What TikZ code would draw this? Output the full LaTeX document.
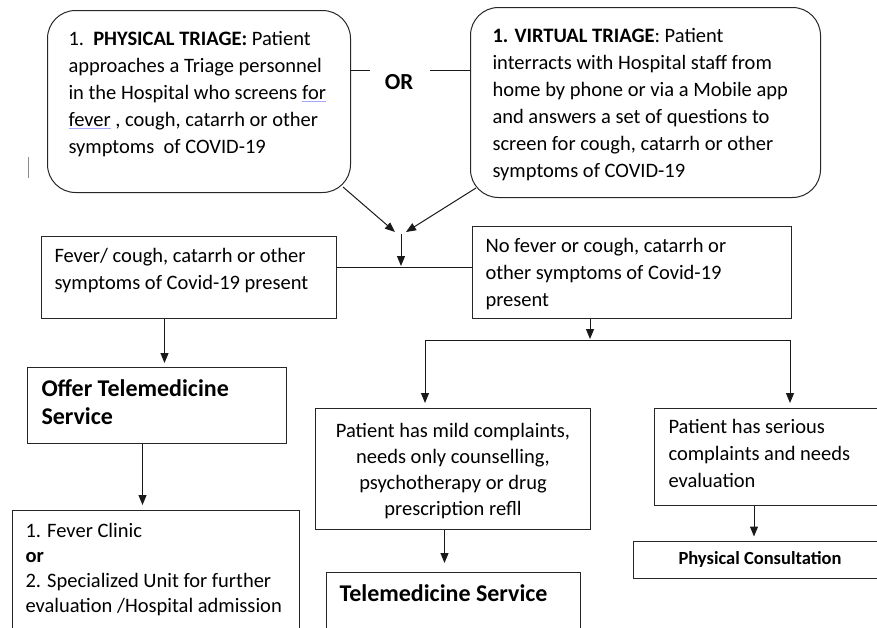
\documentclass[tikz,border=0pt]{standalone}
\usepackage{fontspec}
\setmainfont{Carlito}
\usetikzlibrary{arrows.meta,calc}
% text set from the top of a fixed size frame
\newcommand{\boxtext}[4]{\parbox[c][#2pt][t]{#1pt}{\raggedright\rule{0pt}{#3pt}#4}}
\newcommand{\spellmark}[1]{{\color{blue!35}\underline{\color{black}#1}}}
\tikzset{
  frame/.style={draw=black!85, line width=1pt, inner ysep=0pt, anchor=north west},
  roundframe/.style={frame, rounded corners=28pt},
  arrow/.style={draw=black!90, line width=1pt, -{Triangle[length=10pt,width=8pt]}, shorten >=4pt},
  link/.style={draw=black!90, line width=1pt}
}
\begin{document}
\begin{tikzpicture}[x=1pt,y=-1pt,every node/.style={font=\fontsize{20.5}{27}\selectfont}]
\useasboundingbox (0,0) rectangle (877,627);
\clip (0,0) rectangle (877,627);

% triage
\node[roundframe, inner xsep=21pt] (phys) at (47,10) {\boxtext{261}{182}{35}{1.\ \ \textbf{PHYSICAL TRIAGE:} Patient\\approaches a Triage personnel\\in the Hospital who screens \spellmark{for}\\\spellmark{fever} , cough, catarrh or other\\symptoms\ \ of COVID-19}};
\node[roundframe, inner xsep=22pt] (virt) at (470,7) {\boxtext{306}{190}{35}{\textbf{1. VIRTUAL TRIAGE}: Patient\\interracts with Hospital staff from\\home by phone or via a Mobile app\\and answers a set of questions to\\screen for cough, catarrh or other\\symptoms of COVID-19}};
\node[inner sep=0pt, font=\bfseries\fontsize{23}{27}\selectfont] (orlbl) at (399,82) {OR};
\coordinate (orl) at (370,70);
\coordinate (orr) at (430,70);
\draw[link] (orl -| phys.east) -- (orl);
\draw[link] (orr) -- (orr -| virt.west);
\draw[black!45, line width=1pt] (28,157) -- (28,178);

% outcome of the screening
\node[frame, inner xsep=13pt] (fever) at (41,236) {\boxtext{269}{82}{26}{Fever/ cough, catarrh or other\\symptoms of Covid-19 present}};
\node[frame, inner xsep=13pt] (nofever) at (472,226) {\boxtext{293}{92}{26}{No fever or cough, catarrh or\\other symptoms of Covid-19\\present}};

% left branch
\node[frame, inner xsep=14pt, font=\bfseries\fontsize{24}{28}\selectfont] (offer) at (27,367) {\boxtext{231}{76}{28.5}{Offer Telemedicine\\Service}};
\node[frame, inner xsep=13pt, font=\fontsize{20.5}{25}\selectfont] (clinic) at (12,510) {\boxtext{261}{140}{27}{1. Fever Clinic\\\textbf{or}\\2. Specialized Unit for further\\evaluation /Hospital admission}};

% right branch
\node[frame, inner xsep=8pt, font=\fontsize{20.5}{26}\selectfont] (mild) at (315,408) {\boxtext{259}{121}{29}{\centering Patient has mild complaints,\\needs only counselling,\\psychotherapy or drug\\prescription refll}};
\node[frame, inner xsep=13pt, font=\bfseries\fontsize{24}{28}\selectfont] (tele) at (326,572) {\boxtext{228}{80}{28.5}{Telemedicine Service}};
\node[frame, inner xsep=14pt] (serious) at (654,408) {\boxtext{222}{97}{25}{Patient has serious\\complaints and needs\\evaluation}};
\node[draw=black!85, line width=1pt, minimum width=254pt, minimum height=37pt, inner sep=0pt, font=\bfseries\fontsize{18.5}{22}\selectfont] (physcons) at (760,559.5) {Physical Consultation};

% connectors
\coordinate (join) at (401,234);
\coordinate (split1) at (401,267);
\coordinate (split2) at (590,340);
\coordinate (mildin) at (425,340);
\coordinate (seriousin) at (790,340);
\draw[arrow, shorten >=0pt] ([shift={(-8,-6)}]phys.south east) -- ([shift={(-6,-2)}]join);
\draw[arrow, shorten >=0pt] ([shift={(6,-10)}]virt.south west) -- ([shift={(5,-2)}]join);
\draw[arrow, shorten >=1pt] (join) -- (split1);
\draw[link] (split1 -| fever.east) -- (split1 -| nofever.west);
\draw[arrow, shorten >=1pt] (split2 |- nofever.south) -- (split2);
\draw[arrow, shorten <=5pt, shorten >=5pt, {Triangle[length=10pt,width=8pt]}-{Triangle[length=10pt,width=8pt]}] (seriousin |- serious.north) -- (seriousin) -- (mildin) -- (mildin |- mild.north);
\draw[arrow] ([xshift=-24.5]fever.south) -- ([xshift=-24.5]fever.south |- offer.north);
\draw[arrow, shorten >=5pt] ([xshift=-14.5]offer.south) -- ([xshift=-14.5]offer.south |- clinic.north);
\draw[arrow, shorten >=9pt] ([xshift=-8.5]mild.south) -- ([xshift=-8.5]mild.south |- tele.north);
\draw[arrow] ([xshift=-6]physcons.north |- serious.south) -- ([xshift=-6]physcons.north);
\end{tikzpicture}
\end{document}
